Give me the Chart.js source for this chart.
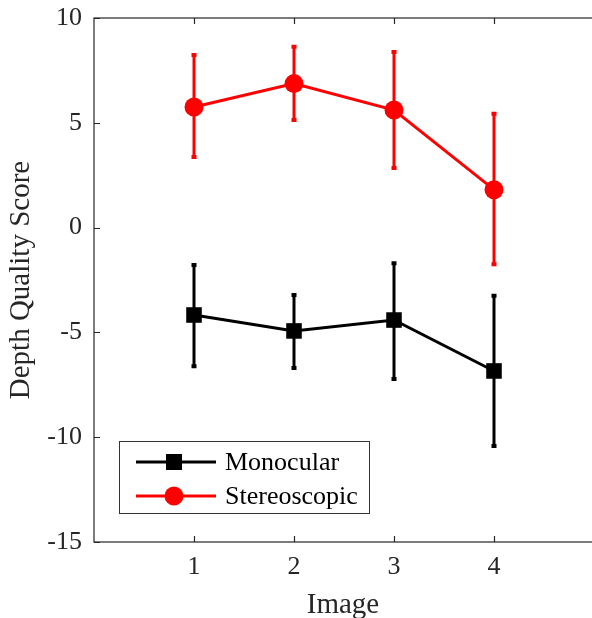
<!DOCTYPE html>
<html>
<head>
<meta charset="utf-8">
<script src="https://cdn.jsdelivr.net/npm/chart.js@4/dist/chart.umd.min.js"></script>
<style>
	html, body { margin: 0; padding: 0; background: #fff; }
	#wrap { width: 592px; height: 618px; }
</style>
</head>
<body>
<div id="wrap"><canvas id="chart"></canvas></div>
<script>
'use strict';

// data
const images = [1, 2, 3, 4];
const mono_mean = [-4.17, -4.93, -4.41, -6.84];
const mono_upper = [-1.78, -3.22, -1.70, -3.25];
const mono_lower = [-6.62, -6.70, -7.22, -10.42];
const stereo_mean = [5.75, 6.87, 5.61, 1.81];
const stereo_upper = [8.23, 8.63, 8.38, 5.43];
const stereo_lower = [3.37, 5.13, 2.84, -1.75];
const x_ticks = [1, 2, 3, 4];
const y_ticks = [-15, -10, -5, 0, 5, 10];

const font_family = '"Liberation Serif", "Times New Roman", serif';
const axis_color = '#262626';

const toPoints = (xs, ys) => xs.map((x, i) => ({ x: x, y: ys[i] }));

const errorBars = {
	id: 'errorBars',
	beforeDatasetsDraw(chart) {
		const ctx = chart.ctx;
		const xs = chart.scales.x, ys = chart.scales.y;
		chart.data.datasets.forEach(ds => {
			ctx.save();
			ctx.strokeStyle = ds.borderColor;
			images.forEach((img, i) => {
				const px = xs.getPixelForValue(img);
				const top = ys.getPixelForValue(ds.upper[i]);
				const bot = ys.getPixelForValue(ds.lower[i]);
				ctx.lineWidth = 3;
				ctx.beginPath();
				ctx.moveTo(px, top);
				ctx.lineTo(px, bot);
				ctx.stroke();
				ctx.lineWidth = 4;
				ctx.beginPath();
				ctx.moveTo(px - 2.5, top);
				ctx.lineTo(px + 2.5, top);
				ctx.moveTo(px - 2.5, bot);
				ctx.lineTo(px + 2.5, bot);
				ctx.stroke();
			});
			ctx.restore();
		});
	}
};

// box + inward ticks, matlab style
const axesBox = {
	id: 'axesBox',
	afterDraw(chart) {
		const ctx = chart.ctx;
		const a = chart.chartArea;
		const xs = chart.scales.x, ys = chart.scales.y;
		ctx.save();
		ctx.strokeStyle = axis_color;
		ctx.lineWidth = 1.2;
		ctx.strokeRect(a.left, a.top, a.right - a.left + 4, a.bottom - a.top);
		ctx.beginPath();
		x_ticks.forEach(v => {
			const px = Math.round(xs.getPixelForValue(v)) + 0.5;
			ctx.moveTo(px, a.bottom);
			ctx.lineTo(px, a.bottom - 6);
			ctx.moveTo(px, a.top);
			ctx.lineTo(px, a.top + 6);
		});
		y_ticks.forEach(v => {
			const py = Math.round(ys.getPixelForValue(v)) + 0.5;
			ctx.moveTo(a.left, py);
			ctx.lineTo(a.left + 6, py);
		});
		ctx.stroke();
		ctx.restore();
	}
};

const boxLegend = {
	id: 'boxLegend',
	afterDraw(chart) {
		const ctx = chart.ctx;
		const left = 119.5, top = 441.5, w = 250, h = 72;
		ctx.save();
		ctx.fillStyle = '#fff';
		ctx.fillRect(left, top, w, h);
		ctx.strokeStyle = '#333';
		ctx.lineWidth = 1;
		ctx.strokeRect(left, top, w, h);
		chart.data.datasets.forEach((ds, i) => {
			const y = 462 + i * 34;
			ctx.strokeStyle = ds.borderColor;
			ctx.lineWidth = 3;
			ctx.beginPath();
			ctx.moveTo(136, y);
			ctx.lineTo(216, y);
			ctx.stroke();
			ctx.fillStyle = ds.borderColor;
			if (ds.pointStyle === 'rect') {
				ctx.fillRect(174 - 8, y - 8, 16, 16);
			} else {
				ctx.beginPath();
				ctx.arc(174, y, 9.5, 0, Math.PI * 2);
				ctx.fill();
			}
			ctx.fillStyle = '#000';
			ctx.font = '26px ' + font_family;
			ctx.textBaseline = 'middle';
			ctx.fillText(ds.label, 225, y + 1);
		});
		ctx.restore();
	}
};

const chart = new Chart(document.querySelector('#chart').getContext('2d'), {
	type: 'line',
	data: {
		datasets: [
			{
				label: 'Monocular',
				data: toPoints(images, mono_mean),
				upper: mono_upper,
				lower: mono_lower,
				borderColor: '#000000',
				backgroundColor: '#000000',
				borderWidth: 3,
				pointStyle: 'rect',
				pointRadius: 11,
				pointHoverRadius: 11,
				pointBorderWidth: 0
			},
			{
				label: 'Stereoscopic',
				data: toPoints(images, stereo_mean),
				upper: stereo_upper,
				lower: stereo_lower,
				borderColor: '#ff0000',
				backgroundColor: '#ff0000',
				borderWidth: 3,
				pointStyle: 'circle',
				pointRadius: 9.5,
				pointHoverRadius: 9.5,
				pointBorderWidth: 0
			}
		]
	},
	options: {
		responsive: true,
		maintainAspectRatio: false,
		animation: false,
		layout: { autoPadding: false, padding: { top: 18, right: 0, left: 0, bottom: 0 } },
		plugins: {
			legend: { display: false },
			tooltip: { enabled: false }
		},
		scales: {
			x: {
				type: 'linear',
				min: 0,
				max: 4.98,
				afterFit: s => {
					s.height = 76;
					s.paddingLeft = 0;
					s.paddingRight = 0;
				},
				afterBuildTicks: s => { s.ticks = x_ticks.map(v => ({ value: v })); },
				grid: { display: false, drawTicks: false },
				border: { display: false },
				ticks: {
					padding: 10,
					color: axis_color,
					maxRotation: 0,
					font: { family: font_family, size: 26 }
				},
				title: {
					display: true,
					text: 'Image',
					color: axis_color,
					padding: { top: 0, bottom: -5 },
					font: { family: font_family, size: 29 }
				}
			},
			y: {
				min: -15,
				max: 10,
				afterFit: s => {
					s.width = 94;
					s.paddingTop = 0;
					s.paddingBottom = 0;
				},
				afterBuildTicks: s => { s.ticks = y_ticks.map(v => ({ value: v })); },
				grid: { display: false, drawTicks: false },
				border: { display: false },
				ticks: {
					padding: 12,
					color: axis_color,
					font: { family: font_family, size: 26 }
				},
				title: {
					display: true,
					text: 'Depth Quality Score',
					color: axis_color,
					padding: { top: 4, bottom: 0 },
					font: { family: font_family, size: 29 }
				}
			}
		}
	},
	plugins: [errorBars, axesBox, boxLegend]
});
</script>
</body>
</html>
